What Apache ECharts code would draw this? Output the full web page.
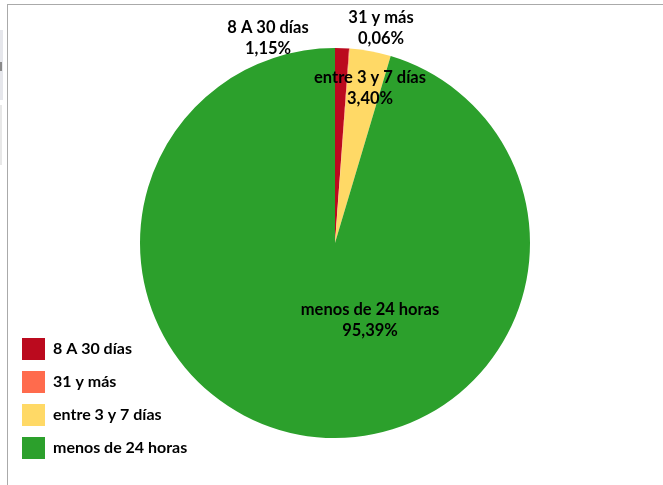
<!DOCTYPE html>
<html>
<head>
<meta charset="utf-8">
<script src="https://cdn.jsdelivr.net/npm/echarts@6/dist/echarts.min.js"></script>
<style>html,body{margin:0;padding:0;background:#fff}#c{width:663px;height:485px}</style>
</head>
<body>
<div id="c"></div>
<script>
const categories = ['8 A 30 días', '31 y más', 'entre 3 y 7 días', 'menos de 24 horas'];
const values = [1.15, 0.06, 3.40, 95.39];
const valueLabels = ['1,15%', '0,06%', '3,40%', '95,39%'];
const colors = ['#BB0A1E', '#FF6B4D', '#FFD966', '#2CA02C'];
const labelPos = [[268, 38], [381, 28], [370, 88], [370, 320]];

const chart = echarts.init(document.getElementById('c'));
const font = 'Lato, "Open Sans", sans-serif';
chart.setOption({
  animation: false,
  graphic: [
    { type: 'line', shape: { x1: 7, y1: 4.5, x2: 663, y2: 4.5 }, style: { stroke: '#aaaaaa', lineWidth: 1 } },
    { type: 'line', shape: { x1: 7.5, y1: 4, x2: 7.5, y2: 485 }, style: { stroke: '#aaaaaa', lineWidth: 1 } },
    { type: 'rect', shape: { x: 0, y: 30, width: 3, height: 70 }, style: { fill: '#e6e7ec' } },
    { type: 'rect', shape: { x: 0, y: 62, width: 2, height: 9 }, style: { fill: '#8a8a8a' } },
    { type: 'rect', shape: { x: 0, y: 105, width: 2, height: 60 }, style: { fill: '#e8e8e8' } }
  ],
  legend: {
    orient: 'vertical',
    left: 22,
    top: 338,
    padding: 0,
    itemWidth: 23,
    itemHeight: 22,
    itemGap: 11,
    icon: 'rect',
    textStyle: { fontFamily: font, fontWeight: 'bold', fontSize: 16, color: '#000', padding: [0, 0, 0, 3] },
    data: categories
  },
  series: [{
    type: 'pie',
    center: [335, 243],
    radius: 195,
    startAngle: 90,
    clockwise: true,
    avoidLabelOverlap: false,
    itemStyle: { borderWidth: 0 },
    label: {
      show: true,
      position: 'inside',
      fontFamily: font,
      fontWeight: 'bold',
      fontSize: 16.5,
      lineHeight: 21,
      color: '#000',
      formatter: p => p.name + '\n' + valueLabels[p.dataIndex]
    },
    labelLine: { show: false },
    labelLayout: p => ({ x: labelPos[p.dataIndex][0], y: labelPos[p.dataIndex][1], align: 'center', verticalAlign: 'middle' }),
    emphasis: { disabled: true },
    data: categories.map((n, i) => ({ name: n, value: values[i], itemStyle: { color: colors[i] } }))
  }]
});
</script>
</body>
</html>
